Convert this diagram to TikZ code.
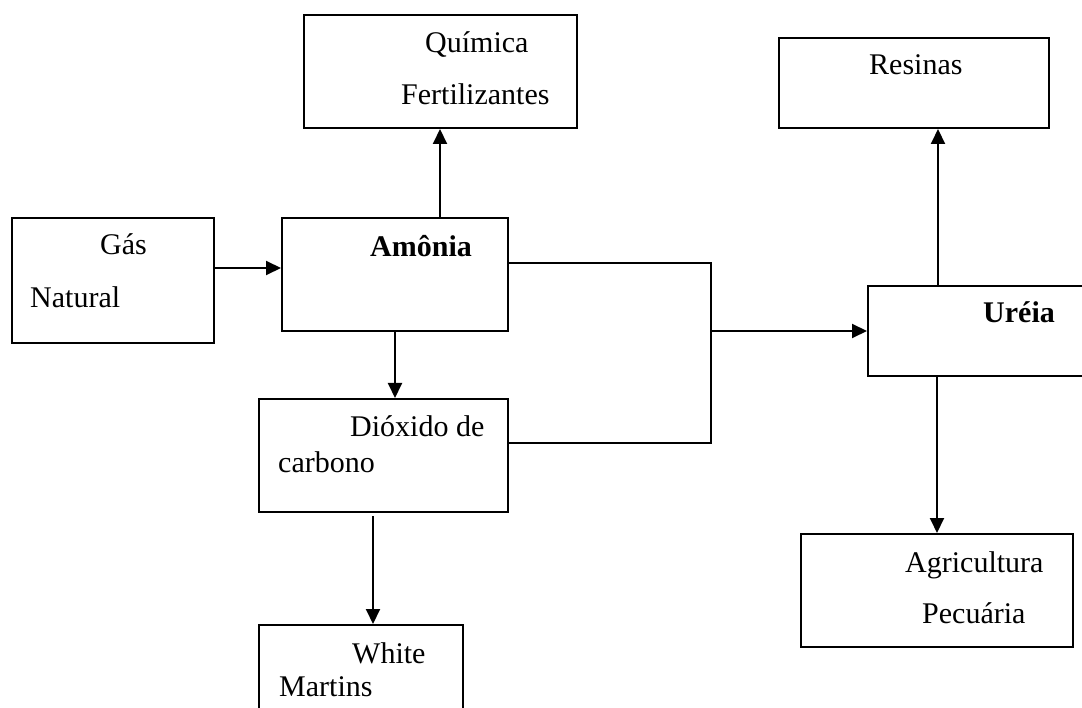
\documentclass[tikz,border=0pt]{standalone}
\usepackage{fontspec}
\setmainfont{Liberation Serif}
\usetikzlibrary{arrows.meta}

\begin{document}
\begin{tikzpicture}[x=1pt,y=-1pt,
  box/.style={draw, rectangle, line width=2pt, inner sep=0pt},
  lbl/.style={anchor=base west, inner sep=0pt, font=\fontsize{30}{36}\selectfont},
  blbl/.style={lbl, font=\fontsize{30}{36}\selectfont\bfseries},
  link/.style={line width=2pt},
  arr/.style={link, -{Triangle[length=15pt,width=14pt]}}]

\clip (0,0) rectangle (1082,708);
\fill[white] (0,0) rectangle (1082,708);

% boxes
\node[box, minimum width=273pt, minimum height=113pt] (quimica) at (440,71.5) {};
\node[box, minimum width=270pt, minimum height=90pt]  (resinas) at (914,83) {};
\node[box, minimum width=202pt, minimum height=125pt] (gas)     at (113,280.5) {};
\node[box, minimum width=226pt, minimum height=113pt] (amonia)  at (395,274.5) {};
\node[box, minimum width=227pt, minimum height=90pt]  (ureia)   at (981.5,331) {};
\node[box, minimum width=249pt, minimum height=113pt] (dioxido) at (383.5,455.5) {};
\node[box, minimum width=204pt, minimum height=115pt] (white)   at (361,682.5) {};
\node[box, minimum width=272pt, minimum height=113pt] (agri)    at (937,590.5) {};

% labels
\node[lbl]  (tq1) at (425,53)  {Química};
\node[lbl]  (tq2) at (401,105) {Fertilizantes};
\node[lbl]  (tr)  at (869,75)  {Resinas};
\node[lbl]  (tg1) at (100,255) {Gás};
\node[lbl]  (tg2) at (30,308)  {Natural};
\node[blbl] (ta)  at (370,257) {Amônia};
\node[blbl] (tu)  at (983,323) {Uréia};
\node[lbl]  (td1) at (350,437) {Dióxido de};
\node[lbl]  (td2) at (278,472) {carbono};
\node[lbl]  (tw1) at (352,663) {White};
\node[lbl]  (tw2) at (279,696) {Martins};
\node[lbl]  (tp1) at (905,572) {Agricultura};
\node[lbl]  (tp2) at (922,623) {Pecuária};

% connectors
\coordinate (join) at (711,331);
\coordinate (co2out) at (373,516);

\draw[arr] (gas.east |- 0,268) -- (amonia.west |- 0,268);
\draw[arr] (amonia.north -| quimica.south) -- (quimica.south);
\draw[arr] (amonia.south) -- (dioxido.north -| amonia.south);
\draw[link] (amonia.east |- 0,263) -- (join |- 0,263) -- (join |- 0,443) -- (dioxido.east |- 0,443);
\draw[arr] (join) -- (ureia.west |- join);
\draw[arr] (ureia.north -| 938,0) -- (resinas.south -| 938,0);
\draw[arr] (ureia.south -| agri.north) -- (agri.north);
\draw[arr] (co2out) -- (white.north -| co2out);

\end{tikzpicture}
\end{document}
